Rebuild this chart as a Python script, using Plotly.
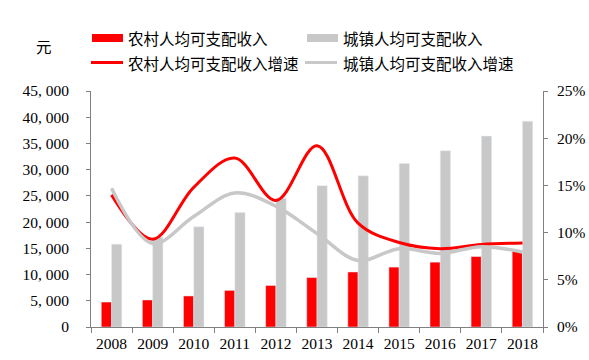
import plotly.graph_objects as go

years = ["2008", "2009", "2010", "2011", "2012", "2013", "2014", "2015", "2016", "2017", "2018"]
rural_income = [4761, 5153, 5919, 6977, 7917, 9430, 10489, 11422, 12363, 13432, 14617]
urban_income = [15781, 17175, 19109, 21810, 24565, 26955, 28844, 31195, 33616, 36396, 39251]
rural_growth = [14.0, 9.3, 14.8, 17.9, 13.4, 19.2, 11.0, 8.95, 8.3, 8.75, 8.9]
urban_growth = [14.7, 8.85, 11.7, 14.2, 12.8, 9.9, 7.05, 8.3, 7.8, 8.5, 7.95]
y_ticks = [0, 5000, 10000, 15000, 20000, 25000, 30000, 35000, 40000, 45000]
y_ticktext = [f"{v:,}".replace(",", ", ") for v in y_ticks]
y2_ticks = [0, 5, 10, 15, 20, 25]
y2_ticktext = [f"{v}%" for v in y2_ticks]

RED = "#FF0000"
GRAY = "#C8C8C8"
FONT = "'Liberation Serif', 'Noto Sans CJK SC', serif"
CJK = "'Noto Sans CJK SC', 'Liberation Serif', sans-serif"

L, R, T, B = 91, 46, 91, 33
W, H = 589, 360
PW, PH = W - L - R, H - T - B

def px(X):
    return (X - L) / PW

def py(Y):
    return (H - B - Y) / PH

fig = go.Figure()
fig.add_trace(go.Bar(x=years, y=rural_income, name="农村人均可支配收入", marker_color=RED, yaxis="y"))
fig.add_trace(go.Bar(x=years, y=urban_income, name="城镇人均可支配收入", marker_color=GRAY, yaxis="y"))
fig.add_trace(go.Scatter(x=years, y=rural_growth, name="农村人均可支配收入增速", mode="lines",
                         line=dict(color=RED, width=3, shape="spline", smoothing=1.0), yaxis="y2"))
fig.add_trace(go.Scatter(x=years, y=urban_growth, name="城镇人均可支配收入增速", mode="lines",
                         line=dict(color=GRAY, width=3.5, shape="spline", smoothing=1.0), yaxis="y2"))

# manual legend
legend_items = [
    ("rect", RED, 92, 123, 38, "农村人均可支配收入", 126),
    ("rect", GRAY, 307, 338, 38, "城镇人均可支配收入", 341),
    ("line", RED, 91, 123, 62.5, "农村人均可支配收入增速", 126),
    ("line", GRAY, 305, 337, 62.5, "城镇人均可支配收入增速", 341),
]
shapes = []
annotations = []
for kind, color, x0, x1, yc, label, tx in legend_items:
    if kind == "rect":
        shapes.append(dict(type="rect", xref="paper", yref="paper", x0=px(x0), x1=px(x1),
                           y0=py(yc + 4), y1=py(yc - 4), fillcolor=color, line=dict(width=0)))
    else:
        shapes.append(dict(type="line", xref="paper", yref="paper", x0=px(x0), x1=px(x1),
                           y0=py(yc), y1=py(yc), line=dict(color=color, width=3)))
    annotations.append(dict(text=label, xref="paper", yref="paper", x=px(tx), y=py(yc),
                            xanchor="left", yanchor="middle", showarrow=False,
                            font=dict(family=CJK, size=15.5, color="#000000")))
annotations.append(dict(text="元", xref="paper", yref="paper", x=px(44), y=py(46),
                        xanchor="center", yanchor="middle", showarrow=False,
                        font=dict(family=CJK, size=15.5, color="#000000")))

fig.update_layout(
    width=W, height=H,
    margin=dict(l=L, r=R, t=T, b=B, autoexpand=False),
    paper_bgcolor="white", plot_bgcolor="white",
    font=dict(family=FONT, size=15.5, color="#000000"),
    barmode="group", bargap=0.5, bargroupgap=0,
    showlegend=False,
    xaxis=dict(type="category", showline=True, linecolor="#808080", linewidth=1, automargin=False,
               ticks="outside", tickson="boundaries", ticklen=5, tickcolor="#808080",
               showgrid=False, tickfont=dict(family=FONT, size=15.5), ticklabelstandoff=2),
    yaxis=dict(range=[0, 45000], tickvals=y_ticks, ticktext=y_ticktext, showline=True, linecolor="#808080",
               automargin=False,
               ticks="outside", ticklen=4, tickcolor="#808080", showgrid=False, zeroline=False,
               tickfont=dict(family=FONT, size=15.5), ticklabelstandoff=14),
    yaxis2=dict(range=[0, 25], tickvals=y2_ticks, ticktext=y2_ticktext, overlaying="y", side="right",
                automargin=False,
                showline=True, linecolor="#808080", ticks="outside", ticklen=4, tickcolor="#808080",
                showgrid=False, zeroline=False, tickfont=dict(family=FONT, size=15.5), ticklabelstandoff=6),
    shapes=shapes,
    annotations=annotations,
)

fig.write_html("out.html", config={"displayModeBar": False},
               post_script="document.body.style.margin='0';document.body.style.overflow='hidden';")
